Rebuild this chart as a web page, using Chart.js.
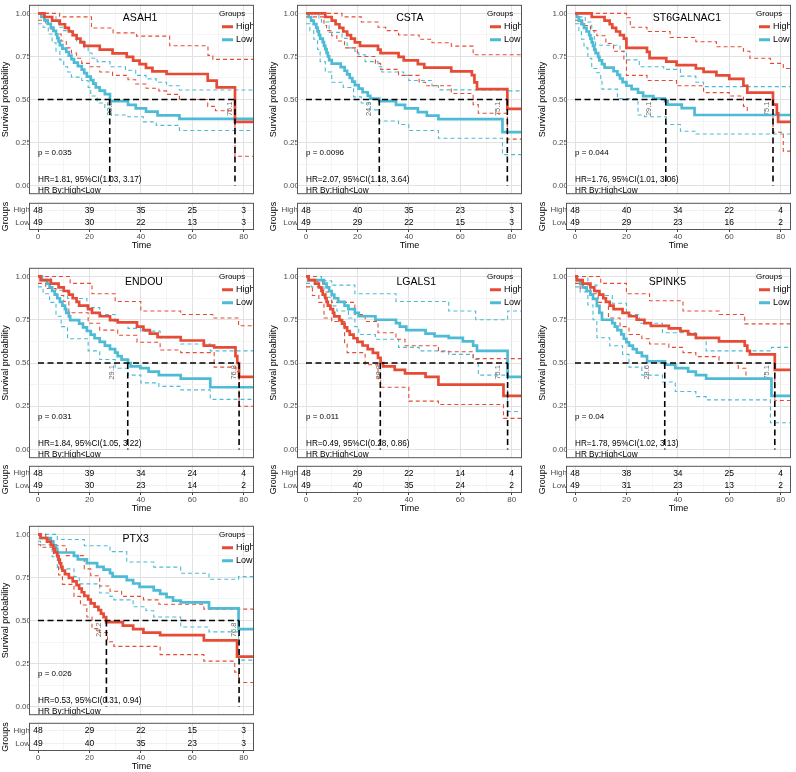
<!DOCTYPE html>
<html><head><meta charset="utf-8">
<script src="https://cdn.jsdelivr.net/npm/chart.js@4.4.1/dist/chart.umd.min.js"></script>
<style>
html,body{margin:0;padding:0;background:#fff;}
#wrap{position:relative;width:796px;height:772px;overflow:hidden;background:#fff;}
canvas{position:absolute;}
</style></head><body><div id="wrap"></div>
<script>
// ---------------- data ----------------
const genes = ['ASAH1','CSTA','ST6GALNAC1','ENDOU','LGALS1','SPINK5','PTX3'];
const groups = ['High','Low'];
const timeTicks = [0,20,40,60,80];
const survTicks = [0,0.25,0.5,0.75,1];
const pTexts = ['p = 0.035','p = 0.0096','p = 0.044','p = 0.031','p = 0.011','p = 0.04','p = 0.026'];
const hrTexts = ['HR=1.81, 95%CI(1.03, 3.17)','HR=2.07, 95%CI(1.18, 3.64)','HR=1.76, 95%CI(1.01, 3.06)',
  'HR=1.84, 95%CI(1.05, 3.22)','HR=0.49, 95%CI(0.28, 0.86)','HR=1.78, 95%CI(1.02, 3.13)','HR=0.53, 95%CI(0.31, 0.94)'];
const hrByText = 'HR By:High<Low';
const riskHigh = [[48,39,35,25,3],[48,40,35,23,3],[48,40,34,22,4],[48,39,34,24,4],[48,29,22,14,4],[48,38,34,25,4],[48,29,22,15,3]];
const riskLow  = [[49,30,22,13,3],[49,29,22,15,3],[49,29,23,16,2],[49,30,23,14,2],[49,40,35,24,2],[49,31,23,13,2],[49,40,35,23,3]];
const medianTimes = [[27.9,76.6],[28.5,78.3],[35.3,77],[34.9,78.2],[28.9,78.4],[34.9,77.7],[26.6,78.2]];
const medianLabels = [['28.5','75.1'],['24.9','75.1'],['29.1','75.1'],['29.1','76.8'],['28.8','75.1'],['28.6','75.1'],['24.2','76.8']];

const asah1High = [[0,1],[2.5,0.979],[5.5,0.958],[8.5,0.937],[10.5,0.916],[12,0.895],[13.5,0.874],[15,0.853],[16.5,0.832],[18,0.811],[24,0.79],[29,0.768],[34.5,0.747],[37,0.726],[39.5,0.705],[42,0.684],[44.5,0.663],[50,0.648],[66,0.61],[69.5,0.57],[76.6,0.37],[84,0.37]];
const asah1HighUp = [[0,1],[8.4,0.98],[20.8,0.915],[29.2,0.887],[38.3,0.868],[51.2,0.812],[66.1,0.756],[68,0.733],[84,0.733]];
const asah1HighLo = [[0,0.96],[3,0.94],[5,0.91],[7,0.88],[9,0.84],[11,0.8],[13,0.77],[15,0.74],[17,0.71],[20,0.69],[24,0.66],[29,0.64],[35,0.615],[38,0.59],[42,0.565],[47,0.55],[50,0.53],[55,0.5],[66,0.46],[69,0.435],[76.6,0.17],[84,0.17]];
const asah1Low = [[0,1],[1.3,0.98],[2.5,0.959],[3.8,0.939],[5,0.918],[6,0.898],[7,0.878],[7.5,0.857],[8,0.837],[8.5,0.816],[9.5,0.796],[11,0.776],[12,0.755],[13,0.735],[14,0.714],[15.5,0.694],[17,0.673],[18,0.653],[19,0.633],[20.5,0.612],[21.5,0.592],[22.5,0.571],[24,0.551],[26,0.531],[28,0.49],[35,0.469],[38,0.449],[42,0.429],[46.5,0.408],[55,0.388],[84,0.388]];
const asah1LowUp = [[0,1],[4.5,0.98],[7,0.95],[8,0.92],[10,0.9],[13,0.87],[15,0.84],[18,0.8],[19.5,0.77],[21,0.74],[23,0.72],[28,0.69],[34,0.67],[38,0.64],[42,0.62],[46,0.6],[50,0.58],[55,0.555],[84,0.555]];
const asah1LowLo = [[0,0.94],[2,0.92],[4,0.88],[5.5,0.83],[7,0.78],[8.5,0.73],[10,0.69],[11.5,0.66],[13,0.63],[17,0.61],[19.5,0.57],[20.5,0.52],[23,0.48],[26,0.45],[28,0.41],[35,0.4],[41,0.37],[46,0.35],[55,0.32],[84,0.32]];

const cstaHigh = [[0,1],[7.5,0.979],[10,0.958],[11.5,0.937],[13,0.916],[14.5,0.895],[16,0.874],[17.5,0.853],[19,0.832],[21,0.811],[28,0.79],[29,0.769],[36,0.748],[38,0.727],[43.5,0.706],[46,0.685],[56.5,0.663],[64.5,0.641],[65.5,0.6],[66.5,0.56],[78.3,0.445],[84,0.445]];
const cstaHighUp = [[0,1],[14,0.98],[21.5,0.95],[28,0.92],[31,0.9],[36,0.875],[44,0.85],[49,0.83],[56.5,0.81],[65,0.76],[84,0.76]];
const cstaHighLo = [[0,0.98],[7,0.93],[8,0.9],[10,0.87],[12,0.84],[15,0.8],[20,0.75],[27,0.71],[29,0.675],[36,0.64],[44,0.6],[46.5,0.58],[56.5,0.535],[65,0.47],[67,0.42],[78.3,0.27],[84,0.27]];
const cstaLow = [[0,1],[1,0.979],[2,0.958],[3,0.938],[4,0.917],[4.5,0.896],[5,0.875],[5.5,0.854],[6.5,0.833],[7,0.812],[7.5,0.792],[8,0.771],[8.5,0.75],[9,0.729],[10,0.708],[13.5,0.688],[15,0.667],[16,0.646],[17,0.625],[18,0.604],[19,0.583],[20.5,0.563],[22,0.542],[24,0.521],[25,0.505],[28.5,0.49],[35,0.469],[38.5,0.448],[43.5,0.427],[47,0.406],[51.5,0.386],[76.4,0.31],[84,0.31]];
const cstaLowUp = [[0,1],[5,0.97],[6,0.95],[9,0.89],[14,0.855],[16,0.8],[19,0.78],[20.5,0.76],[23,0.72],[28,0.69],[29.5,0.66],[38,0.64],[40,0.61],[49,0.58],[51.5,0.556],[78,0.55],[84,0.55]];
const cstaLowLo = [[0,0.94],[1.5,0.9],[3,0.85],[4.5,0.79],[5.5,0.72],[7.5,0.66],[10,0.6],[14.5,0.57],[18.5,0.515],[21.5,0.48],[25,0.44],[28.5,0.375],[36,0.355],[40,0.32],[51.5,0.275],[76.4,0.18],[84,0.18]];

const st6High = [[0,1],[6.5,0.979],[11.5,0.958],[13.5,0.937],[14.5,0.916],[16,0.895],[17.5,0.874],[19,0.853],[20,0.8],[28,0.777],[29,0.74],[35.5,0.72],[39.5,0.7],[47,0.68],[50,0.66],[55,0.64],[60,0.62],[65.5,0.58],[67,0.54],[77,0.47],[78.5,0.42],[79,0.37],[84,0.37]];
const st6HighUp = [[0,1],[20,0.975],[21.5,0.92],[28,0.895],[37,0.86],[47,0.835],[55,0.806],[65.5,0.78],[68,0.74],[76,0.71],[81,0.68],[84,0.68]];
const st6HighLo = [[0,0.96],[3,0.93],[6,0.9],[8.5,0.87],[12,0.825],[15,0.78],[19,0.73],[20,0.64],[28,0.61],[39.5,0.58],[50,0.54],[60,0.52],[65.5,0.46],[67,0.41],[77,0.31],[81,0.2],[84,0.2]];
const st6Low = [[0,1],[0.7,0.979],[1.5,0.958],[2.5,0.937],[3.5,0.916],[4.5,0.895],[5.5,0.874],[6,0.853],[6.5,0.832],[7,0.811],[7.5,0.79],[8,0.769],[9,0.748],[9.5,0.727],[10.5,0.706],[11.5,0.685],[15,0.664],[16.5,0.643],[17.5,0.622],[18.5,0.601],[20,0.58],[22,0.56],[24.5,0.54],[26.5,0.52],[30.5,0.505],[35,0.49],[36,0.47],[41.5,0.45],[46.5,0.41],[84,0.41]];
const st6LowUp = [[0,1],[1.5,0.98],[4,0.95],[6.5,0.9],[7.5,0.85],[8,0.815],[17.5,0.78],[20,0.73],[25,0.69],[34.5,0.675],[41,0.636],[47,0.6],[50,0.575],[84,0.575]];
const st6LowLo = [[0,0.94],[1.5,0.9],[2.5,0.85],[3.5,0.8],[5,0.74],[6.5,0.68],[8.5,0.655],[10,0.61],[10.5,0.56],[16.5,0.505],[24.5,0.41],[27,0.4],[35.5,0.355],[41,0.316],[47,0.3],[84,0.3]];

const endouHigh = [[0,1],[1,0.979],[5,0.958],[8,0.937],[10,0.916],[12,0.895],[13.5,0.874],[15,0.853],[16,0.832],[19.5,0.811],[21,0.79],[24,0.77],[28,0.748],[31,0.735],[38.5,0.71],[41,0.69],[43.5,0.67],[46.5,0.65],[55.5,0.63],[64.5,0.6],[68.5,0.59],[76.8,0.54],[77.5,0.5],[78.2,0.42],[84,0.42]];
const endouHighUp = [[0,1],[12.5,0.96],[21,0.9],[30,0.855],[40,0.8],[55.5,0.78],[68,0.76],[78,0.715],[84,0.715]];
const endouHighLo = [[0,0.96],[3,0.93],[7,0.89],[10,0.855],[12,0.79],[19.5,0.73],[24,0.69],[31,0.66],[38.5,0.62],[47.5,0.575],[55.5,0.56],[68.5,0.476],[77,0.45],[78.2,0.25],[84,0.25]];
const endouLow = [[0,1],[1.5,0.979],[3.5,0.958],[4.5,0.937],[5.5,0.916],[6.5,0.895],[7.5,0.874],[8.5,0.853],[9.5,0.832],[10.5,0.811],[11,0.79],[12,0.769],[12.5,0.748],[16,0.727],[17.5,0.706],[19,0.685],[20.5,0.664],[22,0.643],[24,0.622],[26,0.6],[28,0.58],[30,0.56],[31,0.54],[32.5,0.52],[35,0.5],[36,0.48],[39.8,0.47],[43,0.45],[47,0.43],[55.5,0.41],[67,0.36],[84,0.36]];
const endouLowUp = [[0,1],[5,0.96],[8,0.92],[11.5,0.873],[19,0.82],[24,0.78],[30,0.74],[35,0.7],[40,0.684],[47.5,0.646],[55.5,0.61],[67,0.57],[84,0.57]];
const endouLowLo = [[0,0.94],[2,0.9],[4.5,0.85],[7,0.77],[9,0.71],[11.5,0.64],[19.5,0.57],[24,0.52],[30,0.47],[35,0.43],[40,0.385],[47,0.365],[55.5,0.345],[67,0.29],[84,0.29]];

const lgals1High = [[0,1],[1,0.979],[3.5,0.958],[5,0.937],[6,0.916],[6.5,0.895],[7.5,0.874],[8,0.853],[8.5,0.832],[9.5,0.811],[10.5,0.79],[11,0.769],[13,0.748],[14,0.727],[15,0.706],[16,0.685],[17,0.664],[18.5,0.643],[20,0.622],[22,0.601],[24,0.58],[26,0.559],[28,0.53],[29,0.5],[30,0.48],[34.5,0.46],[38.5,0.44],[46.5,0.42],[51.5,0.375],[76.8,0.31],[84,0.31]];
const lgals1HighUp = [[0,1],[4.5,0.97],[6.5,0.91],[10,0.85],[19,0.78],[23,0.74],[28,0.675],[35,0.637],[38.5,0.6],[51.5,0.565],[65,0.525],[84,0.525]];
const lgals1HighLo = [[0,0.94],[2.5,0.89],[5,0.85],[7,0.76],[10,0.74],[15,0.61],[16,0.56],[23,0.49],[28,0.41],[29,0.36],[40,0.28],[51.5,0.26],[76.8,0.18],[84,0.18]];
const lgals1Low = [[0,1],[1,0.979],[7,0.958],[8,0.937],[9,0.916],[10,0.895],[11,0.874],[12.5,0.853],[15,0.832],[16.5,0.811],[19,0.79],[20.5,0.77],[27,0.75],[35,0.73],[36.5,0.71],[39,0.69],[46.5,0.67],[50,0.655],[55.5,0.645],[61,0.625],[65,0.6],[66.5,0.57],[78.4,0.42],[84,0.42]];
const lgals1LowUp = [[0,1],[6,0.975],[10,0.95],[19,0.9],[35,0.855],[55.5,0.8],[66,0.75],[78.4,0.8],[84,0.8]];
const lgals1LowLo = [[0,0.96],[2,0.94],[7,0.88],[10,0.83],[12,0.8],[16.5,0.76],[19,0.71],[20.5,0.665],[27,0.637],[36,0.59],[44,0.57],[55.5,0.55],[65,0.52],[67,0.43],[78.4,0.22],[84,0.22]];

const spink5High = [[0,1],[0.7,0.979],[3,0.958],[6,0.937],[7.5,0.916],[9.5,0.895],[11,0.874],[12,0.853],[13.5,0.832],[15,0.811],[18.5,0.79],[21,0.77],[24,0.75],[27,0.73],[29.5,0.715],[36.5,0.7],[41,0.685],[44,0.665],[47,0.645],[56,0.625],[66,0.6],[67,0.57],[68,0.55],[77.7,0.46],[84,0.46]];
const spink5HighUp = [[0,1],[10,0.96],[20,0.9],[29,0.86],[42,0.8],[56,0.78],[66,0.726],[84,0.726]];
const spink5HighLo = [[0,0.96],[2,0.93],[6,0.9],[9,0.85],[13,0.76],[17.5,0.71],[21,0.665],[26,0.64],[29,0.61],[36.5,0.59],[42,0.56],[47,0.537],[56,0.5],[63.5,0.47],[66.5,0.41],[77.7,0.283],[84,0.283]];
const spink5Low = [[0,1],[0.7,0.979],[2,0.958],[3,0.937],[4.5,0.916],[6,0.895],[7,0.87],[8.5,0.83],[9.5,0.79],[10.5,0.75],[14.5,0.73],[15.5,0.71],[16.5,0.69],[18,0.665],[19,0.64],[20,0.62],[21,0.6],[22.5,0.58],[24,0.56],[26,0.54],[28,0.51],[35,0.49],[39,0.47],[44,0.45],[47,0.43],[51,0.41],[76.4,0.31],[84,0.31]];
const spink5LowUp = [[0,1],[5,0.95],[8.5,0.89],[14.5,0.845],[20,0.78],[25,0.73],[34,0.675],[47,0.64],[51,0.57],[76.4,0.59],[84,0.59]];
const spink5LowLo = [[0,0.94],[2,0.91],[5,0.835],[7,0.75],[8.5,0.646],[13.5,0.6],[18.5,0.55],[21,0.476],[26,0.43],[34,0.39],[39,0.335],[47,0.306],[51,0.287],[76,0.155],[84,0.155]];

const ptx3High = [[0,1],[1,0.979],[3.5,0.958],[5,0.937],[6,0.916],[6.5,0.895],[7.5,0.874],[8,0.853],[8.5,0.832],[9,0.811],[9.5,0.79],[10.5,0.769],[12,0.748],[13.5,0.727],[15,0.706],[16,0.685],[17,0.664],[18,0.643],[19.5,0.622],[20.5,0.6],[22,0.58],[23.5,0.56],[24.5,0.54],[25.5,0.52],[26.5,0.49],[33,0.47],[37,0.45],[41,0.43],[47.5,0.415],[64.5,0.385],[77.4,0.29],[84,0.29]];
const ptx3HighUp = [[0,1],[3,0.97],[6,0.934],[11,0.877],[18,0.8],[20.5,0.76],[24,0.7],[28,0.67],[32.5,0.64],[41,0.62],[47,0.594],[64.5,0.566],[84,0.566]];
const ptx3HighLo = [[0,0.94],[1,0.925],[6,0.88],[8,0.764],[9.5,0.71],[14,0.64],[16.5,0.59],[19,0.52],[21,0.453],[24,0.43],[27,0.377],[29.5,0.35],[47.5,0.302],[64.5,0.264],[76.5,0.2],[78,0.14],[84,0.14]];
const ptx3Low = [[0,1],[1,0.979],[5,0.958],[6,0.937],[7,0.916],[7.5,0.895],[14,0.875],[15.5,0.855],[19,0.833],[23,0.812],[25.5,0.795],[28,0.775],[29,0.755],[34.5,0.735],[37,0.715],[39.5,0.695],[45,0.675],[47.5,0.655],[50,0.635],[52.5,0.615],[55.5,0.605],[66.5,0.57],[78,0.45],[84,0.45]];
const ptx3LowUp = [[0,1],[7.5,0.97],[18,0.934],[28,0.9],[34.5,0.84],[45,0.81],[55.5,0.774],[66.5,0.74],[78,0.755],[84,0.755]];
const ptx3LowLo = [[0,0.96],[1,0.94],[5.5,0.87],[7.5,0.8],[14,0.755],[16,0.713],[24,0.66],[28,0.64],[29.5,0.62],[37,0.58],[42,0.557],[45,0.52],[55.5,0.462],[66.5,0.434],[78,0.27],[84,0.27]];

const curveSets = [
  [asah1High, asah1HighUp, asah1HighLo, asah1Low, asah1LowUp, asah1LowLo],
  [cstaHigh, cstaHighUp, cstaHighLo, cstaLow, cstaLowUp, cstaLowLo],
  [st6High, st6HighUp, st6HighLo, st6Low, st6LowUp, st6LowLo],
  [endouHigh, endouHighUp, endouHighLo, endouLow, endouLowUp, endouLowLo],
  [lgals1High, lgals1HighUp, lgals1HighLo, lgals1Low, lgals1LowUp, lgals1LowLo],
  [spink5High, spink5HighUp, spink5HighLo, spink5Low, spink5LowUp, spink5LowLo],
  [ptx3High, ptx3HighUp, ptx3HighLo, ptx3Low, ptx3LowUp, ptx3LowLo]
];

// ---------------- layout / style ----------------
const FONT = "'Liberation Sans', Arial, Helvetica, sans-serif";
const RED = '#E64B35', BLUE = '#4DBBD5';
const AXW = 29;
const cols = [[29,254],[297,522],[566,791]];
const rows = [{T:2,B:197,tT:199,tB:230},{T:265,B:461,tT:462,tB:493},{T:523,B:718,tT:719,tB:751}];
const titleT = [39.7,40.4,43.5,41.2,42.9,35.9,38];
const X_MIN = -3.5, X_MAX = 84;
const xGrid = [0,10,20,30,40,50,60,70,80];
const yGrid = [0,0.125,0.25,0.375,0.5,0.625,0.75,0.875,1];
const isMajX = v => timeTicks.includes(v);
const isMajY = v => survTicks.some(t => Math.abs(t - v) < 1e-9);
const gridCol = maj => maj ? '#E2E2E2' : '#F0F0F0';

const wrap = document.getElementById('wrap');
const toXY = arr => arr.map(p => ({x:p[0], y:p[1]}));

function lineDs(data, color, width, dash, order){
  return {data, borderColor:color, borderWidth:width, borderDash:dash, stepped:true,
    pointRadius:0, fill:false, tension:0, order, showLine:true};
}

function drawBorder(ctx, a){
  ctx.save();
  ctx.strokeStyle = '#555'; ctx.lineWidth = 1;
  ctx.strokeRect(a.left+0.5, a.top+0.5, a.right-a.left-1, a.bottom-a.top-1);
  ctx.restore();
}

function kmDecor(p){
  return {
    id:'kmDecor'+p,
    beforeDatasetsDraw(chart){
      const {ctx, chartArea:a, scales:{x,y}} = chart;
      ctx.save();
      ctx.beginPath(); ctx.rect(a.left, a.top, a.right-a.left, a.bottom-a.top); ctx.clip();
      ctx.fillStyle = '#000'; ctx.textBaseline = 'middle';
      ctx.font = '10.5px ' + FONT; ctx.textAlign = 'center';
      ctx.fillText(genes[p], x.getPixelForValue(titleT[p]), y.getPixelForValue(0.97));
      ctx.font = '8px ' + FONT; ctx.textAlign = 'left';
      ctx.fillText(pTexts[p], x.getPixelForValue(0), y.getPixelForValue(0.19));
      ctx.font = '8.2px ' + FONT;
      ctx.fillText(hrTexts[p], x.getPixelForValue(0), y.getPixelForValue(0.032));
      ctx.fillText(hrByText, x.getPixelForValue(0), y.getPixelForValue(-0.03));
      ctx.fillStyle = '#666'; ctx.font = '7.5px ' + FONT;
      medianLabels[p].forEach(lbl => {
        const px = x.getPixelForValue(parseFloat(lbl) - 0.5), py = y.getPixelForValue(0.5) + 2;
        ctx.save(); ctx.translate(px, py); ctx.rotate(-Math.PI/2);
        ctx.textAlign = 'right'; ctx.textBaseline = 'middle';
        ctx.fillText(lbl, 0, 0); ctx.restore();
      });
      ctx.restore();
    },
    afterDatasetsDraw(chart){
      const {ctx, chartArea:a} = chart;
      ctx.save();
      ctx.beginPath(); ctx.rect(a.left, a.top, a.right-a.left, a.bottom-a.top); ctx.clip();
      const R = a.right, T = a.top;
      ctx.fillStyle = '#000'; ctx.textBaseline = 'middle'; ctx.textAlign = 'left';
      ctx.font = '8px ' + FONT;
      ctx.fillText('Groups', R-35, T+9);
      [[RED, groups[0], 22],[BLUE, groups[1], 35]].forEach(([c, t, dy]) => {
        ctx.strokeStyle = c; ctx.lineWidth = 3;
        ctx.beginPath(); ctx.moveTo(R-32, T+dy); ctx.lineTo(R-21, T+dy); ctx.stroke();
        ctx.font = '9px ' + FONT; ctx.fillStyle = '#000';
        ctx.fillText(t, R-18, T+dy);
      });
      ctx.restore();
      drawBorder(ctx, a);
    }
  };
}

function tableDecor(p){
  return {
    id:'tableDecor'+p,
    afterDatasetsDraw(chart){
      const {ctx, chartArea:a} = chart;
      ctx.save();
      ctx.fillStyle = '#000'; ctx.font = '8.5px ' + FONT;
      ctx.textAlign = 'center'; ctx.textBaseline = 'middle';
      chart.data.datasets.forEach((ds, i) => {
        const meta = chart.getDatasetMeta(i);
        meta.data.forEach((el, j) => ctx.fillText(String(ds.data[j].n), el.x, el.y));
      });
      ctx.restore();
      drawBorder(ctx, a);
    }
  };
}

genes.forEach((g, p) => {
  const r = rows[Math.floor(p/3)], c = cols[p%3];
  const W = c[1] - c[0] + AXW;

  // ---- KM plot ----
  const km = document.createElement('canvas');
  km.width = W; km.height = r.B - r.T;
  km.style.left = (c[0]-AXW) + 'px'; km.style.top = r.T + 'px';
  wrap.appendChild(km);
  const cs = curveSets[p];
  const med = medianTimes[p];
  const dash = [4,3];
  const datasets = [
    lineDs([{x:0,y:0.5},{x:Math.max(...med),y:0.5}], '#000', 1.6, [6,3.5], 0),
    lineDs([{x:med[0],y:0.5},{x:med[0],y:0}], '#000', 1.6, [6,3.5], 0),
    lineDs([{x:med[1],y:0.5},{x:med[1],y:0}], '#000', 1.6, [6,3.5], 0),
    lineDs(toXY(cs[0]), RED, 2.7, [], 1),
    lineDs(toXY(cs[3]), BLUE, 2.7, [], 1),
    lineDs(toXY(cs[1]), RED, 1.1, dash, 2),
    lineDs(toXY(cs[2]), RED, 1.1, dash, 2),
    lineDs(toXY(cs[4]), BLUE, 1.1, dash, 2),
    lineDs(toXY(cs[5]), BLUE, 1.1, dash, 2)
  ];
  new Chart(km, {
    type:'scatter',
    data:{datasets},
    options:{
      responsive:false, animation:false, devicePixelRatio:1,
      layout:{padding:0},
      plugins:{legend:{display:false}, tooltip:{enabled:false}},
      scales:{
        x:{type:'linear', min:X_MIN, max:X_MAX,
          afterBuildTicks:s => { s.ticks = xGrid.map(v => ({value:v})); },
          ticks:{display:false},
          grid:{color:ctx => gridCol(ctx.tick && isMajX(ctx.tick.value)), lineWidth:ctx => (ctx.tick && isMajX(ctx.tick.value)) ? 1 : 0.7, drawTicks:false},
          border:{display:false},
          afterFit:s => { s.height = 0; }
        },
        y:{type:'linear', min:-0.05, max:1.05,
          afterBuildTicks:s => { s.ticks = yGrid.map(v => ({value:v})); },
          ticks:{autoSkip:false, padding:-2, color:'#4d4d4d', font:{family:FONT, size:8},
            callback:v => isMajY(v) ? v.toFixed(2) : ''},
          grid:{color:ctx => gridCol(ctx.tick && isMajY(ctx.tick.value)), lineWidth:ctx => (ctx.tick && isMajY(ctx.tick.value)) ? 1 : 0.7, drawTicks:false},
          border:{display:false},
          title:{display:true, text:'Survival probability', color:'#000', font:{family:FONT, size:9}, padding:0},
          afterFit:s => { s.width = AXW; }
        }
      }
    },
    plugins:[kmDecor(p)]
  });

  // ---- risk table ----
  const tb = document.createElement('canvas');
  tb.width = W; tb.height = r.tB - r.tT + 21;
  tb.style.left = (c[0]-AXW) + 'px'; tb.style.top = r.tT + 'px';
  wrap.appendChild(tb);
  new Chart(tb, {
    type:'scatter',
    data:{datasets:[
      {data:timeTicks.map((t,i) => ({x:t, y:1, n:riskHigh[p][i]})), pointRadius:0},
      {data:timeTicks.map((t,i) => ({x:t, y:0, n:riskLow[p][i]})), pointRadius:0}
    ]},
    options:{
      responsive:false, animation:false, devicePixelRatio:1,
      layout:{padding:0},
      plugins:{legend:{display:false}, tooltip:{enabled:false}},
      scales:{
        x:{type:'linear', min:X_MIN, max:X_MAX,
          afterBuildTicks:s => { s.ticks = xGrid.map(v => ({value:v})); },
          ticks:{autoSkip:false, maxRotation:0, padding:0, color:'#4d4d4d', font:{family:FONT, size:8},
            callback:v => isMajX(v) ? String(v) : ''},
          grid:{color:ctx => gridCol(ctx.tick && isMajX(ctx.tick.value)), lineWidth:ctx => (ctx.tick && isMajX(ctx.tick.value)) ? 1 : 0.7,
            drawTicks:true, tickLength:2, tickColor:ctx => (ctx.tick && isMajX(ctx.tick.value)) ? '#444' : 'rgba(0,0,0,0)'},
          border:{display:false},
          title:{display:true, text:'Time', color:'#000', font:{family:FONT, size:9}, padding:0},
          afterFit:s => { s.height = 21; }
        },
        y:{type:'linear', min:-0.6, max:1.6,
          afterBuildTicks:s => { s.ticks = [{value:0},{value:1}]; },
          ticks:{autoSkip:false, padding:-1, color:'#4d4d4d', font:{family:FONT, size:8},
            callback:v => v === 1 ? groups[0] : groups[1]},
          grid:{color:'#F0F0F0', drawTicks:false},
          border:{display:false},
          title:{display:true, text:'Groups', color:'#000', font:{family:FONT, size:9}, padding:0},
          afterFit:s => { s.width = AXW; }
        }
      }
    },
    plugins:[tableDecor(p)]
  });
});
</script></body></html>
